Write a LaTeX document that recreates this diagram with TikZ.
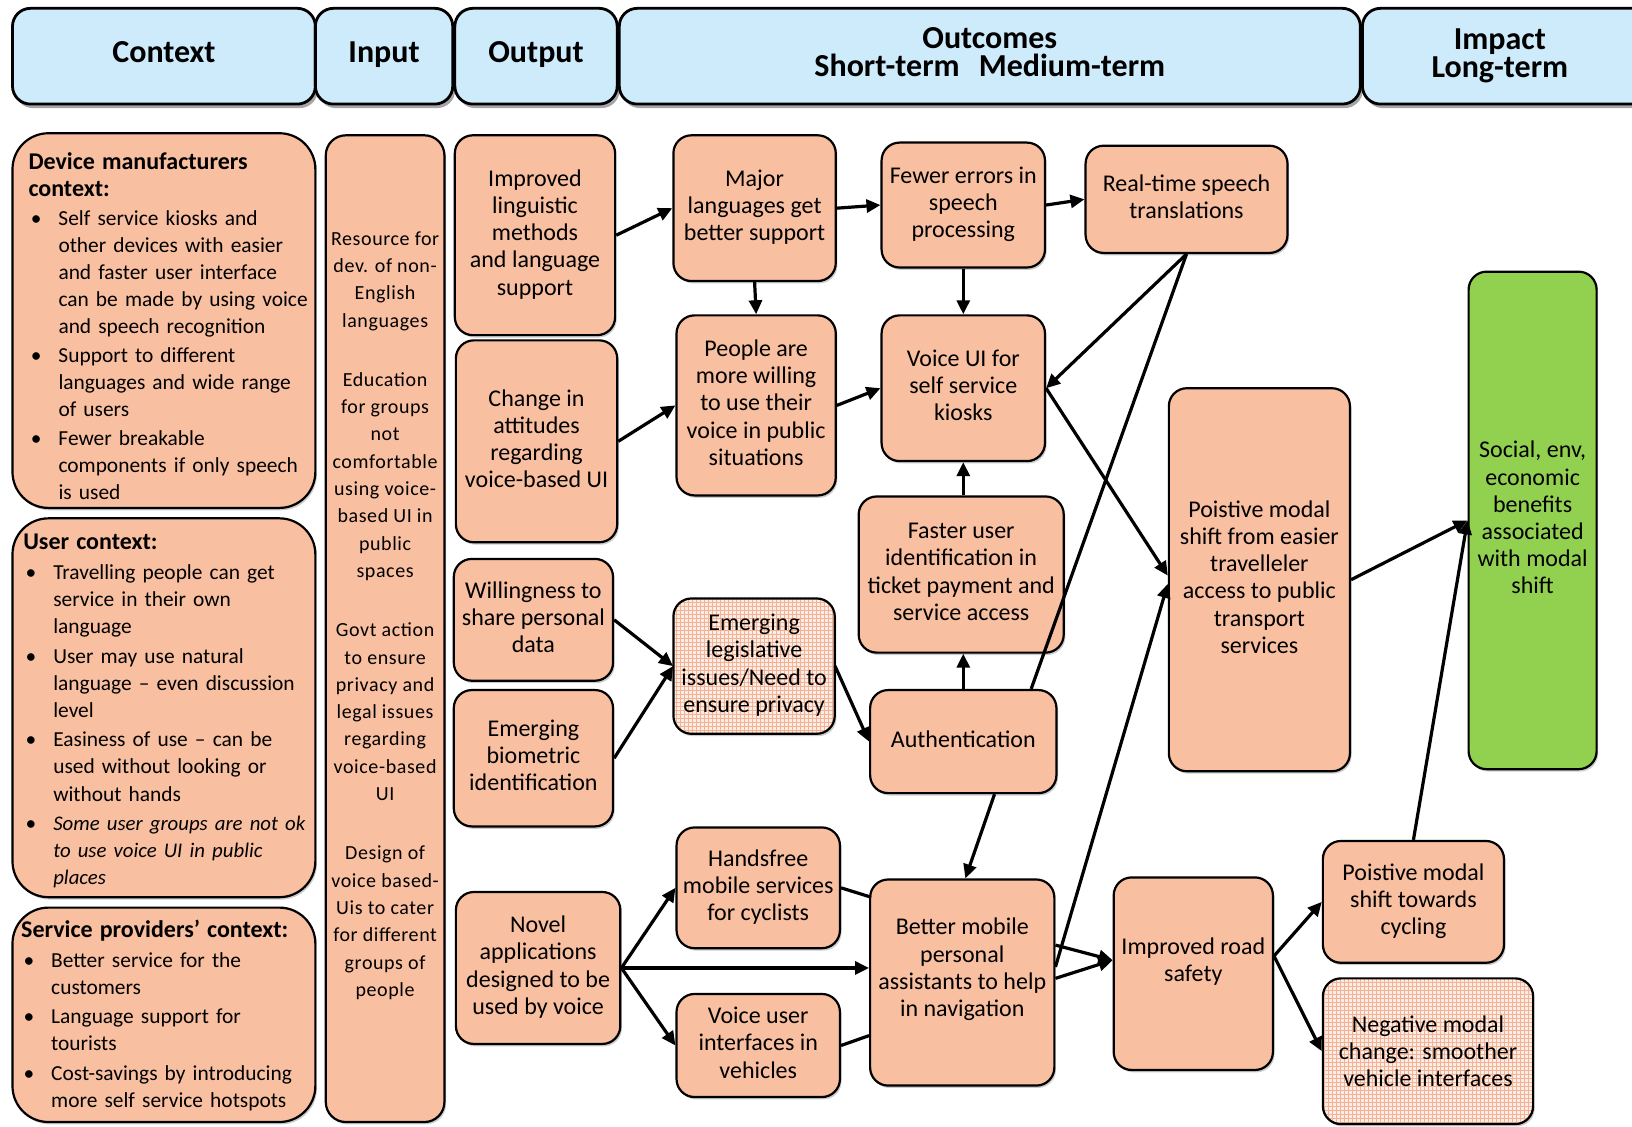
\documentclass[tikz,border=0pt]{standalone}
\usepackage{fontspec}
\setmainfont{Carlito}
\newfontfamily\inputfam[LetterSpace=3]{Carlito}
\usetikzlibrary{arrows.meta,calc,shadows,patterns.meta}
\definecolor{boxfill}{RGB}{249,191,161}
\definecolor{hdrfill}{RGB}{205,235,250}
\definecolor{grnfill}{RGB}{146,208,80}
\definecolor{patbase}{RGB}{253,236,228}
\definecolor{patline}{RGB}{244,178,148}
\newcommand\bitem{\par\hangindent=15pt\hangafter=1\noindent\hbox to 15pt{\hspace{1.2pt}\textbullet\hfil}}
\newcommand\ctitle[1]{{\fontsize{12}{13.55}\selectfont\bfseries #1\par}}
\tikzset{
  sz/.style 2 args={minimum width=#1*0.5204pt, minimum height=#2*0.5204pt},
  shad/.style={drop shadow={shadow xshift=0.8pt, shadow yshift=-1.2pt, opacity=0.2, fill=black}},
  bx/.style={draw=black, line width=1.1pt, fill=boxfill, rounded corners=9pt, inner sep=0pt, align=center,
    font=\fontsize{12}{13.6}\selectfont, shad, text depth=2.8pt},
  patbx/.style={draw=black, line width=1.1pt, rounded corners=9pt, inner sep=0pt, align=center,
    font=\fontsize{12}{13.6}\selectfont, shad, preaction={fill=patbase},
    pattern={Hatch[angle=0,distance=2pt,line width=0.35pt]}, pattern color=patline, text depth=2.8pt},
  ctxbx/.style={draw=black, line width=1.1pt, fill=boxfill, rounded corners=18pt, inner sep=0pt, shad},
  ctxtxt/.style={anchor=north west, inner sep=0pt, text width=150pt,
    font=\fontsize{10.7}{13.55}\selectfont},
  hdr/.style={draw=black, line width=1.4pt, fill=hdrfill, rounded corners=9pt, inner sep=0pt, align=center,
    font=\fontsize{16}{14}\selectfont\bfseries, text depth=4.3pt,
    drop shadow={shadow xshift=1.2pt, shadow yshift=-2pt, opacity=0.35, fill=black}},
  hdrtxt/.style={inner sep=0pt, align=center, font=\fontsize{16}{14}\selectfont\bfseries},
  arr/.style={-{Triangle[length=7pt,width=6.5pt]}, line width=1.6pt},
  ln/.style={line width=1.6pt},
}
\begin{document}
\begin{tikzpicture}[x=0.5204pt,y=-0.5204pt]
\useasboundingbox (0,0) rectangle (1568,1082);
\clip (0,0) rectangle (1568,1082);

% headers
\node[hdr, sz={291}{92}] (hctx) at (157.5,54) {Context};
\node[hdr, sz={132}{92}] (hin) at (369,54) {Input};
\node[hdr, sz={156}{92}] (hout) at (515,54) {Output};
\node[hdr, sz={712}{92}] (hoc) at (951,54) {Outcomes\\Short-term\hspace{6pt} Medium-term};
\node[hdr, sz={291}{92}] (him) at (1454.5,54) {};
\node[hdrtxt] (himt) at (1441,54) {Impact\\Long-term};

% context column
\node[ctxbx, sz={291}{360}] (dev) at (157.5,308) {};
\node[ctxtxt] (devt) at (27,146) {\raggedright\parskip=0.9pt
\ctitle{Device manufacturers\newline context:}
\bitem Self service kiosks and\newline other devices with easier\newline and faster user interface\newline can be made by using voice\newline and speech recognition
\bitem Support to different\newline languages and wide range\newline of users
\bitem Fewer breakable\newline components if only speech\newline is used\par};

\node[ctxbx, sz={291}{364}] (usr) at (157.5,680) {};
\node[ctxtxt] (usrt) at (22,513) {\raggedright\parskip=1.2pt
\ctitle{User context:}
\bitem Travelling people can get\newline service in their own\newline language
\bitem User may use natural\newline language – even discussion\newline level
\bitem Easiness of use – can be\newline used without looking or\newline without hands
\bitem {\itshape\fontsize{10.4}{13.55}\selectfont Some user groups are not ok\newline to use voice UI in public\newline places}\par};

\node[ctxbx, sz={291}{206}] (srv) at (157.5,975) {};
\node[ctxtxt] (srvt) at (20,884) {\raggedright\parskip=1.1pt
\ctitle{Service providers’ context:}
\bitem Better service for the\newline customers
\bitem Language support for\newline tourists
\bitem Cost-savings by introducing\newline more self service hotspots\par};

% input column
\node[ctxbx, rounded corners=10pt, sz={114}{948}] (inp) at (370,604) {};
\node[inner sep=0pt, anchor=north, align=center, font=\inputfam\fontsize{10}{13.65}\selectfont] (inpt) at (370,222)
 {Resource for\\dev. of non-\\English\\languages\\[16pt]
  Education\\for groups\\not\\comfortable\\using voice-\\based UI in\\public\\spaces\\[16pt]
  Govt action\\to ensure\\privacy and\\legal issues\\regarding\\voice-based\\UI\\[16pt]
  Design of\\voice based-\\Uis to cater\\for different\\groups of\\people};

% output column
\node[bx, sz={154}{192}] (imp) at (514,226) {Improved\\linguistic\\methods\\and language\\support};
\node[bx, sz={155}{194}] (chg) at (515.5,424) {Change in\\attitudes\\regarding\\voice-based UI};
\node[bx, sz={153}{117}] (wil) at (512.5,595.5) {Willingness to\\share personal\\data};
\node[bx, sz={153}{131}] (bio) at (512.5,728.5) {Emerging\\biometric\\identification};
\node[bx, sz={158}{146}] (nov) at (517,930) {Novel\\applications\\designed to be\\used by voice};

% short-term column
\node[bx, sz={156}{140}] (maj) at (725,200) {Major\\languages get\\better support};
\node[bx, sz={153}{173}] (ppl) at (726.5,389.5) {People are\\more willing\\to use their\\voice in public\\situations};
\node[patbx, sz={155}{130}] (leg) at (724.5,640) {Emerging\\legislative\\issues/Need to\\ensure privacy};
\node[bx, sz={157}{116}] (hf) at (728.5,853) {Handsfree\\mobile services\\for cyclists};
\node[bx, sz={157}{99}] (vv) at (728.5,1004.5) {Voice user\\interfaces in\\vehicles};

% medium-term column
\node[bx, sz={157}{120}] (few) at (925.5,197) {Fewer errors in\\speech\\processing};
\node[bx, sz={157}{140}] (vui) at (925.5,373) {Voice UI for\\self service\\kiosks};
\node[bx, sz={197}{150}] (fast) at (923.5,552) {Faster user\\identification in\\ticket payment and\\service access};
\node[bx, sz={179}{99}] (auth) at (925.5,712.5) {Authentication};
\node[bx, sz={177}{198}, text depth=15.2pt] (bm) at (924.5,944) {Better mobile\\personal\\assistants to help\\in navigation};

\node[bx, sz={194}{103}] (rt) at (1140,191.5) {Real-time speech\\translations};
\node[bx, sz={174}{368}] (pos) at (1210,557) {Poistive modal\\shift from easier\\travelleler\\access to public\\transport\\services};
\node[bx, sz={153}{185}, text depth=14.2pt] (rs) at (1146.5,935.5) {Improved road\\safety};

% impact column
\node[bx, fill=grnfill, sz={123}{478}] (grn) at (1472.5,500) {Social, env,\\economic\\benefits\\associated\\with modal\\shift};
\node[bx, sz={174}{117}] (cyc) at (1358,866.5) {Poistive modal\\shift towards\\cycling};
\node[patbx, sz={202}{140}, text depth=-3.4pt] (neg) at (1372,1010) {Negative modal\\change: smoother\\vehicle interfaces};

% connectors
\draw[arr] (imp.east) -- (maj.west);
\draw[arr] (maj.east) -- (few.west);
\draw[arr] (few.east) -- (rt.west);
\draw[arr] (maj.south) -- (ppl.north);
\draw[arr] (few.south) -- (vui.north);
\draw[arr] (chg.east) -- (ppl.west);
\draw[arr] (ppl.east) -- (vui.west);
\draw[arr] (rt.south) -- (vui.east);
\draw[ln] ($(auth.north)!0.72!(auth.north east)$) -- (rt.south);
\draw[arr] (vui.east) -- ($(pos.west)+(0,-4)$);
\draw[arr] ($(bm.east)+(0,-15)$) -- ($(pos.west)+(0,4)$);
\draw[arr] ($(bm.east)+(0,-36)$) -- ($(rs.west)+(0,-13)$);
\draw[arr] ($(bm.east)+(0,-4)$) -- ($(rs.west)+(0,-13)$);
\draw[arr] ($(rs.east)+(0,-17)$) -- (cyc.west);
\draw[arr] ($(rs.east)+(0,-17)$) -- (neg.west);
\draw[arr] (cyc.north) -- (grn.west);
\draw[arr] (pos.east) -- (grn.west);
\draw[arr] (wil.east) -- (leg.west);
\draw[arr] (bio.east) -- (leg.west);
\draw[arr] (leg.east) -- (auth.west);
\draw[arr] (auth.north) -- (auth.north |- fast.south);
\draw[arr] (vui.south |- fast.north) -- (vui.south);
\draw[arr] ($(auth.south)+(30,0)$) -- ($(bm.north)+(3,0)$);
\draw[arr] (nov.east) -- (hf.west);
\draw[arr] (nov.east) -- (nov.east -| bm.west);
\draw[arr] (nov.east) -- (vv.west);
\draw[ln] (hf.east) -- ($(bm.west)+(2,-82)$);
\draw[ln] (vv.east) -- ($(bm.west)+(0,51)$);
\end{tikzpicture}
\end{document}
